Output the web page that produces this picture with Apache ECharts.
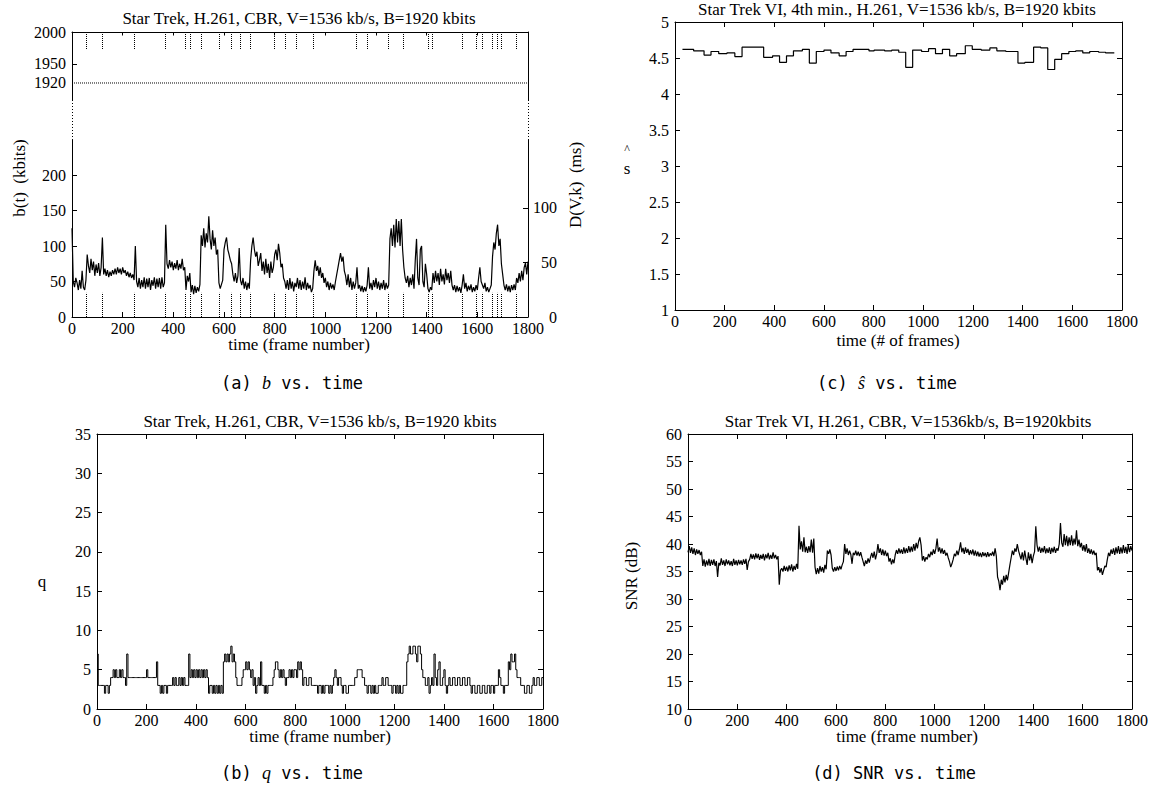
<!DOCTYPE html>
<html><head><meta charset="utf-8">
<script src="https://cdn.jsdelivr.net/npm/echarts@6/dist/echarts.min.js"></script>
<style>html,body{margin:0;padding:0;background:#fff}#c{width:1151px;height:799px}</style>
</head><body><div id="c"></div>
<script>
// ---------------- data ----------------
const FRAME_STEP = 5; // values read every 5 frames, 0..1800
const bValues = [
125,50,42,55,48,38,52,40,65,42,
38,52,88,72,62,82,66,78,58,74,
62,76,58,70,112,60,68,58,66,56,
64,58,66,60,68,60,70,62,68,60,
70,62,66,58,64,56,62,55,60,52,
100,50,42,55,40,52,42,56,40,54,
42,55,38,52,44,56,40,54,42,55,
40,56,42,48,130,75,68,80,70,78,
66,76,68,80,66,75,68,82,66,70,
38,58,50,62,35,45,32,44,34,42,
36,46,115,100,125,98,118,105,142,110,
95,122,100,112,88,95,48,40,46,52,
95,105,112,95,88,80,75,60,50,62,
48,58,97,52,45,55,40,50,38,48,
40,80,100,112,95,85,92,72,80,90,
65,78,60,82,62,75,55,78,62,70,
88,95,80,103,90,70,75,55,50,40,
52,38,55,40,50,36,48,42,55,40,
52,38,50,40,56,38,48,40,45,35,
40,65,80,65,72,58,70,55,62,48,
55,42,50,38,48,40,46,38,50,60,
70,80,90,78,85,65,58,45,60,42,
55,38,50,40,48,70,40,45,36,44,
35,42,36,45,70,40,48,38,52,42,
55,40,50,38,48,40,52,38,48,40,
45,110,125,100,130,98,138,105,135,100,
138,95,70,55,48,58,42,55,45,60,
40,80,110,55,45,95,100,50,42,75,
60,40,35,42,38,62,48,65,50,62,
45,68,50,60,46,68,52,62,48,65,
45,38,45,35,44,36,42,34,45,60,
40,48,36,44,38,46,35,42,36,45,
38,55,70,50,45,40,48,36,42,35,
40,45,85,105,95,118,130,100,110,75,
60,45,38,46,36,44,35,45,38,46,
38,55,48,62,50,65,52,70,76,60,
78];
const qValues = [
7,3,3,3,3,3,2,3,3,2,
3,4,4,5,4,5,4,4,5,4,
5,4,4,3,7,4,4,4,4,4,
4,4,4,4,4,4,4,4,4,4,
5,4,4,4,4,4,4,4,6,3,
3,2,3,2,3,3,2,3,3,3,
3,4,3,4,3,3,4,3,4,3,
4,3,3,3,7,4,5,4,5,4,
5,4,5,4,5,4,5,4,5,4,
2,3,3,2,3,2,3,2,3,2,
3,2,6,7,6,7,6,7,8,6,
7,6,4,3,3,3,3,4,5,5,
6,5,6,5,4,5,3,4,2,3,
4,3,6,3,3,2,3,2,3,3,
3,3,4,5,6,6,5,4,5,4,
5,4,3,4,4,5,4,5,4,5,
5,4,6,5,6,5,3,4,4,3,
3,4,4,3,3,3,3,3,2,3,
3,2,3,2,3,3,3,2,3,2,
3,4,5,4,3,4,4,3,2,3,
3,2,2,3,3,3,3,3,4,4,
5,5,5,5,4,4,3,3,2,3,
3,2,3,2,3,2,2,3,3,3,
4,3,3,4,4,3,3,3,2,3,
3,2,3,2,3,2,2,3,3,3,
6,7,8,7,7,8,8,7,6,8,
8,7,5,4,4,3,3,4,2,3,
4,3,7,4,3,5,6,3,3,4,
5,3,2,3,4,3,3,4,4,3,
3,4,4,3,3,4,4,3,3,4,
4,3,2,3,3,2,2,3,3,2,
2,3,3,2,2,3,3,2,3,3,
2,3,3,3,5,4,3,3,2,3,
3,3,6,5,7,6,6,7,5,4,
4,4,3,3,3,2,2,3,3,2,
2,3,4,3,3,4,4,3,3,4,
4];
const snrValues = [
38.5,39.6,38.4,39.4,38.2,39.2,38.0,39.0,38.2,38.9,
38.0,38.6,36.0,37.2,35.9,37.0,36.1,37.3,36.0,37.1,
36.2,37.2,36.0,36.9,34.0,36.6,36.1,37.4,36.2,37.0,
36.0,37.2,36.3,37.0,36.1,36.9,36.0,37.3,36.2,37.0,
36.1,37.1,36.3,37.0,36.2,37.2,36.4,37.3,35.3,36.8,
37.2,38.2,37.3,38.1,37.2,38.3,37.4,38.2,37.1,38.0,
37.3,38.2,37.0,38.1,37.4,38.4,37.2,38.0,37.3,38.5,
37.4,38.0,37.2,37.8,32.6,35.2,35.6,35.0,36.0,35.1,
35.9,35.0,36.1,35.2,36.3,35.0,36.0,35.3,36.4,35.5,
43.3,39.0,40.5,38.6,41.2,38.5,39.5,38.4,39.6,38.5,
40.8,38.4,41.0,35.8,34.5,35.6,34.6,36.0,35.0,35.8,
34.8,36.2,35.4,38.8,38.2,39.0,38.0,35.6,35.0,35.8,
35.1,35.9,35.2,36.0,35.4,36.2,36.8,40.0,38.2,39.2,
38.0,38.8,38.1,36.4,38.4,38.0,38.8,37.9,38.6,37.8,
38.5,37.6,36.8,36.0,37.0,36.4,37.4,36.6,37.6,38.4,
37.5,38.6,37.2,38.2,40.0,38.4,39.2,38.0,39.0,37.9,
38.8,37.8,38.4,36.8,37.4,36.3,37.2,36.5,38.0,38.9,
38.2,39.2,38.3,39.0,38.2,39.4,38.3,39.2,38.4,39.6,
38.5,39.5,38.6,40.0,38.8,40.2,39.2,40.5,41.2,39.8,
37.0,37.8,36.8,37.6,37.2,38.2,37.6,38.6,38.0,39.0,
38.2,39.2,41.0,38.6,39.4,38.3,39.2,38.2,38.9,37.9,
38.4,37.5,36.8,35.8,36.4,37.2,38.2,37.8,38.8,38.0,
39.0,40.3,38.5,39.3,38.2,39.4,38.4,39.1,38.0,38.9,
38.1,39.0,37.9,38.8,37.8,38.6,37.7,38.4,37.6,38.5,
37.8,38.4,37.6,38.5,37.7,38.3,37.9,38.6,37.8,39.2,
37.8,34.0,33.2,31.6,33.5,32.6,34.2,33.0,34.4,33.4,
34.8,36.2,37.5,38.8,38.0,39.2,38.6,40.0,38.8,38.0,
37.2,38.5,37.0,38.8,37.4,36.2,38.5,37.0,38.2,36.5,
37.8,38.6,43.2,39.8,38.6,39.5,38.4,39.3,38.5,39.6,
38.3,39.2,38.4,39.4,38.2,39.3,38.5,39.5,38.4,39.2,
38.8,40.0,43.8,40.2,39.5,41.8,39.8,41.5,39.6,41.2,
39.8,41.6,39.7,41.0,39.9,42.5,39.6,40.8,39.4,40.2,
38.8,39.8,38.6,40.0,38.4,39.2,38.2,39.0,38.1,38.8,
38.0,38.4,35.2,35.8,34.8,35.6,34.4,35.2,36.0,35.8,
37.2,38.4,37.8,39.0,38.2,39.2,38.0,39.4,38.3,39.6,
38.2,39.4,38.3,39.8,38.4,39.5,38.2,39.8,38.5,39.6,
38.8];
// s-hat: step boundaries (frames) and the value held in each step
const sFrames = [30,75,117,145,176,209,241,270,357,393,421,449,477,513,541,569,600,628,661,689,717,781,802,844,873,901,929,957,993,1021,1049,1077,1106,1134,1169,1197,1233,1268,1296,1332,1381,1409,1444,1473,1501,1529,1557,1586,1614,1642,1670,1706,1734,1769];
const sValues = [4.62,4.60,4.54,4.59,4.56,4.57,4.52,4.65,4.51,4.53,4.44,4.53,4.60,4.62,4.43,4.59,4.61,4.57,4.53,4.59,4.62,4.60,4.61,4.60,4.61,4.58,4.37,4.61,4.59,4.63,4.56,4.62,4.53,4.56,4.67,4.62,4.61,4.64,4.60,4.59,4.43,4.44,4.65,4.64,4.34,4.48,4.56,4.59,4.60,4.57,4.59,4.58,4.57];
const sceneChanges = [57,119,247,368,446,466,509,580,630,663,703,797,840,884,954,1124,1166,1249,1307,1406,1423,1539,1596,1619,1659,1678,1694,1752];
const BUFFER_B = 1920;      // kbits
const RATE_V = 1536;        // kb/s
const bLowTicks = [0,50,100,150,200];
const bHighLabels = [1920,1950,2000];
const bHighTicks = [1950,2000];
const dTicks = [0,50,100];

const titles = {
  a: 'Star Trek, H.261, CBR, V=1536 kb/s, B=1920 kbits',
  c: 'Star Trek VI, 4th min., H.261, V=1536 kb/s, B=1920 kbits',
  b: 'Star Trek, H.261, CBR, V=1536 kb/s, B=1920 kbits',
  d: 'Star Trek VI, H.261, CBR, V=1536kb/s, B=1920kbits'
};

// ---------------- chart ----------------
const SERIF = '"Liberation Serif", "Times New Roman", serif';
const MONO = '"DejaVu Sans Mono", monospace';
const BLACK = '#000';

function toPairs(vals){ return vals.map((v,i)=>[i*FRAME_STEP, v]); }
const sPairs = sValues.map((v,i)=>[sFrames[i], v]).concat([[sFrames[sFrames.length-1], sValues[sValues.length-1]]]);
const plain = v => String(v);

function xAx(grid, pos, showLabel, tickLen){
  return {type:'value', gridIndex:grid, position:pos, min:0, max:1800, interval:200,
    axisLine:{show:true, onZero:false, lineStyle:{color:BLACK, width:1}},
    axisTick:{show:true, inside:true, length:tickLen||5, lineStyle:{color:BLACK}},
    axisLabel:{show:showLabel, color:BLACK, fontFamily:SERIF, fontSize:16, margin:3, hideOverlap:false, formatter:plain},
    splitLine:{show:false}};
}
function yAx(grid, pos, min, max, interval, showLabel, extra){
  const a = {type:'value', gridIndex:grid, position:pos, min:min, max:max, interval:interval,
    axisLine:{show:true, onZero:false, lineStyle:{color:BLACK, width:1}},
    axisTick:{show:true, inside:true, length:5, lineStyle:{color:BLACK}},
    axisLabel:{show:showLabel, color:BLACK, fontFamily:SERIF, fontSize:16, margin:6, hideOverlap:false, formatter:plain},
    splitLine:{show:false}};
  if (extra) { for (const k in extra) a[k] = Object.assign({}, a[k], extra[k]); }
  return a;
}

const UPPER_MIN = 1893.33;
const grids = [
  {left:72, top:32, width:456, height:68},      // 0: (a) upper part
  {left:72, top:139.5, width:456, height:177.5},// 1: (a) lower part
  {left:97, top:434, width:446, height:275},    // 2: (b)
  {left:675, top:22, width:447, height:288},    // 3: (c)
  {left:688, top:434, width:445, height:275}    // 4: (d)
];

const xAxes = [
  xAx(0,'top',false,3.5),
  xAx(1,'bottom',true),
  xAx(2,'bottom',true), xAx(2,'top',false),
  xAx(3,'bottom',true), xAx(3,'top',false),
  xAx(4,'bottom',true), xAx(4,'top',false)
];
const yAxes = [
  yAx(0,'left',UPPER_MIN,2000,null,true,{axisLabel:{customValues:bHighLabels}, axisTick:{customValues:bHighTicks}}),
  yAx(0,'right',UPPER_MIN,2000,null,false,{axisTick:{show:false}}),
  yAx(1,'left',0,250,50,true,{axisLabel:{customValues:bLowTicks}, axisTick:{customValues:bLowTicks}}),
  yAx(1,'right',0,250*1000/RATE_V,50,true,{axisLabel:{customValues:dTicks, margin:29, align:'right'}, axisTick:{customValues:dTicks}}),
  yAx(2,'left',0,35,5,true), yAx(2,'right',0,35,5,false),
  yAx(3,'left',1,5,0.5,true), yAx(3,'right',1,5,0.5,false),
  yAx(4,'left',10,60,5,true), yAx(4,'right',10,60,5,false)
];

const dotted = {type:'dotted', color:BLACK, width:1};
const series = [
  {type:'line', xAxisIndex:1, yAxisIndex:2, data:toPairs(bValues), showSymbol:false, symbol:'none',
   lineStyle:{color:BLACK, width:1.2}, animation:false,
   markLine:{silent:true, symbol:'none', label:{show:false}, lineStyle:dotted, animation:false,
     data: sceneChanges.map(f=>[{coord:[f,0]},{coord:[f,34]}])}},
  {type:'line', xAxisIndex:0, yAxisIndex:0, data:[[0,BUFFER_B],[1800,BUFFER_B]], showSymbol:false, symbol:'none',
   lineStyle:{color:BLACK, width:1, type:'dotted'}, animation:false,
   markLine:{silent:true, symbol:'none', label:{show:false}, lineStyle:dotted, animation:false,
     data: sceneChanges.map(f=>[{coord:[f,2000]},{coord:[f,1973.3]}])}},
  {type:'line', xAxisIndex:2, yAxisIndex:4, data:toPairs(qValues), step:'end', showSymbol:false, symbol:'none',
   lineStyle:{color:BLACK, width:1}, animation:false},
  {type:'line', xAxisIndex:4, yAxisIndex:6, data:sPairs, step:'end', showSymbol:false, symbol:'none',
   lineStyle:{color:BLACK, width:1.2}, animation:false},
  {type:'line', xAxisIndex:6, yAxisIndex:8, data:toPairs(snrValues), showSymbol:false, symbol:'none',
   lineStyle:{color:BLACK, width:1.2}, animation:false}
];

function txt(text, x, y, size, family, rot, extra){
  const e = {type:'text', x:x, y:y, rotation:rot||0, silent:true,
    style:{text:text, fill:BLACK, fontSize:size, fontFamily:family, align:'center', verticalAlign:'middle'}};
  if (extra) Object.assign(e.style, extra);
  return e;
}
const italic = {i:{fontStyle:'italic', fontFamily:SERIF, fontSize:18, fill:BLACK}};
const graphics = [
  // axis break of panel (a)
  {type:'line', silent:true, shape:{x1:72.5,y1:100,x2:72.5,y2:139.5}, style:{stroke:BLACK, lineWidth:1, lineDash:[1,2]}},
  {type:'line', silent:true, shape:{x1:528.5,y1:100,x2:528.5,y2:139.5}, style:{stroke:BLACK, lineWidth:1, lineDash:[1,2]}},
  // titles
  txt(titles.a, 299, 18, 17, SERIF),
  txt(titles.c, 897, 9, 17, SERIF),
  txt(titles.b, 320, 421, 17, SERIF),
  txt(titles.d, 908, 421, 17, SERIF),
  // x names
  txt('time (frame number)', 299, 344, 17, SERIF),
  txt('time (# of frames)', 898, 340, 17, SERIF),
  txt('time (frame number)', 320, 736, 17, SERIF),
  txt('time (frame number)', 907, 736, 17, SERIF),
  // y names
  txt('b(t)  (kbits)', 19, 178, 17, SERIF, Math.PI/2),
  txt('D(V,k)  (ms)', 575, 185, 17, SERIF, Math.PI/2),
  txt('q', 42, 581, 17, SERIF),
  txt('s', 627, 168, 17, SERIF),
  txt('^', 627, 149, 12, SERIF),
  txt('SNR (dB)', 631, 576, 17, SERIF, Math.PI/2),
  // captions
  txt('(a) {i|b} vs. time', 292, 383, 17, MONO, 0, {rich:italic}),
  txt('(c) {i|ŝ} vs. time', 887, 383, 17, MONO, 0, {rich:italic}),
  txt('(b) {i|q} vs. time', 292, 773, 17, MONO, 0, {rich:italic}),
  txt('(d) SNR vs. time', 894, 773, 17, MONO)
];

const chart = echarts.init(document.getElementById('c'), null, {renderer:'svg', width:1151, height:799});
chart.setOption({
  backgroundColor:'#fff',
  animation:false,
  grid:grids, xAxis:xAxes, yAxis:yAxes, series:series, graphic:graphics
});
</script></body></html>
